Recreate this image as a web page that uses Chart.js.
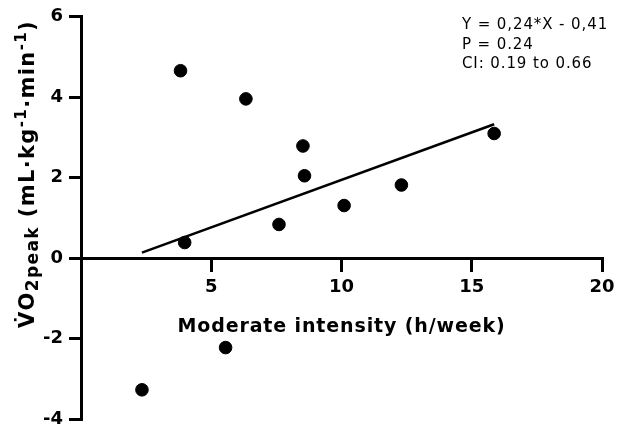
<!DOCTYPE html>
<html>
<head>
<meta charset="utf-8">
<script src="https://cdn.jsdelivr.net/npm/chart.js@4/dist/chart.umd.min.js"></script>
<style>
  html, body { margin: 0; padding: 0; background: #fff; }
  #wrap { width: 618px; height: 436px; position: relative; }
</style>
</head>
<body>
<div id="wrap"><canvas id="chart"></canvas></div>
<script>
// Moderate intensity (h/week) vs change in VO2peak
const hours = [2.34, 3.82, 3.98, 5.55, 6.33, 7.6, 8.52, 8.58, 10.1, 12.3, 15.86];
const vo2 = [-3.27, 4.66, 0.39, -2.22, 3.96, 0.84, 2.79, 2.05, 1.31, 1.82, 3.1];

// regression line end points as drawn
const fitX = [2.34, 15.86];
const fitY = [0.14, 3.33];

const xTicks = [5, 10, 15, 20];
const yTicks = [-4, -2, 0, 2, 4, 6];

const xTitle = 'Moderate intensity (h/week)';
const statLines = ['Y = 0,24*X - 0,41', 'P = 0.24', 'CI: 0.19 to 0.66'];

const FONT = '"DejaVu Sans", Verdana, sans-serif';

// draws a run of text pieces, spread so the whole run is `target` px long
function drawRun(ctx, parts, target) {
  let total = 0, chars = 0;
  parts.forEach(p => {
    ctx.font = 'bold ' + p.size + 'px ' + FONT;
    p.units = p.t.match(/.\u0307?/gu);
    p.w = ctx.measureText(p.t).width;
    total += p.w;
    chars += p.units.length;
  });
  const sp = Math.max(0, (target - total) / chars);
  let x = -(total + sp * chars) / 2;
  parts.forEach(p => {
    ctx.font = 'bold ' + p.size + 'px ' + FONT;
    p.units.forEach(u => {
      ctx.fillText(u, x, p.dy);
      x += ctx.measureText(u).width + sp;
    });
  });
}

const textPlugin = {
  id: 'texts',
  afterDraw(chart) {
    const ctx = chart.ctx;
    const xs = chart.scales.x, ys = chart.scales.y;
    ctx.save();
    ctx.fillStyle = '#000';
    ctx.textBaseline = 'alphabetic';
    ctx.textAlign = 'left';

    // stats block, top right
    ctx.font = '15px ' + FONT;
    ctx.letterSpacing = '0.9px';
    statLines.forEach((t, i) => ctx.fillText(t, 462, 29 + i * 19.5));
    ctx.letterSpacing = '0px';

    // x axis title, under the tick labels
    ctx.save();
    ctx.translate((xs.left + xs.right) / 2, ys.getPixelForValue(0) + 74);
    drawRun(ctx, [{ t: xTitle, size: 19, dy: 0 }], 328);
    ctx.restore();

    // y axis title
    ctx.save();
    ctx.translate(34, 174);
    ctx.rotate(-Math.PI / 2);
    drawRun(ctx, [
      { t: 'V\u0307O', size: 21, dy: 0 },
      { t: '2peak', size: 17, dy: 4 },
      { t: ' (mL\u00b7kg', size: 21, dy: 0 },
      { t: '-1', size: 15, dy: -8 },
      { t: '\u00b7min', size: 21, dy: 0 },
      { t: '-1', size: 15, dy: -8 },
      { t: ')', size: 21, dy: 0 }
    ], 308);
    ctx.restore();
    ctx.restore();
  }
};

new Chart(document.getElementById('chart'), {
  type: 'scatter',
  data: {
    datasets: [
      {
        label: 'Fit',
        type: 'line',
        data: fitX.map((x, i) => ({ x, y: fitY[i] })),
        borderColor: '#000',
        borderWidth: 2.6,
        pointRadius: 0,
        fill: false
      },
      {
        label: 'Participants',
        data: hours.map((x, i) => ({ x, y: vo2[i] })),
        backgroundColor: '#000',
        borderColor: '#000',
        pointRadius: 6.3,
        pointHoverRadius: 6.3
      }
    ]
  },
  options: {
    responsive: true,
    maintainAspectRatio: false,
    animation: false,
    layout: { padding: { left: 0, right: 16, top: 15, bottom: 14 } },
    plugins: { legend: { display: false }, tooltip: { enabled: false } },
    scales: {
      x: {
        type: 'linear',
        position: { y: 0 },
        min: 0,
        max: 20,
        afterBuildTicks: s => { s.ticks = xTicks.map(v => ({ value: v })); },
        afterFit: s => { s.paddingLeft = 0; s.paddingRight = 0; },
        grid: { drawOnChartArea: false, drawTicks: true, tickLength: 12, lineWidth: 3, color: '#000' },
        border: { display: true, color: '#000', width: 3 },
        ticks: { color: '#000', padding: 6, font: { family: FONT, size: 18, weight: 'bold' } }
      },
      y: {
        type: 'linear',
        position: 'left',
        min: -4,
        max: 6,
        afterBuildTicks: s => { s.ticks = yTicks.map(v => ({ value: v })); },
        afterFit: s => { s.width = 81; },
        grid: { drawOnChartArea: false, drawTicks: true, tickLength: 12, lineWidth: 3, color: '#000' },
        border: { display: true, color: '#000', width: 3 },
        ticks: { color: '#000', padding: 6, font: { family: FONT, size: 18, weight: 'bold' } }
      }
    }
  },
  plugins: [textPlugin]
});
</script>
</body>
</html>
